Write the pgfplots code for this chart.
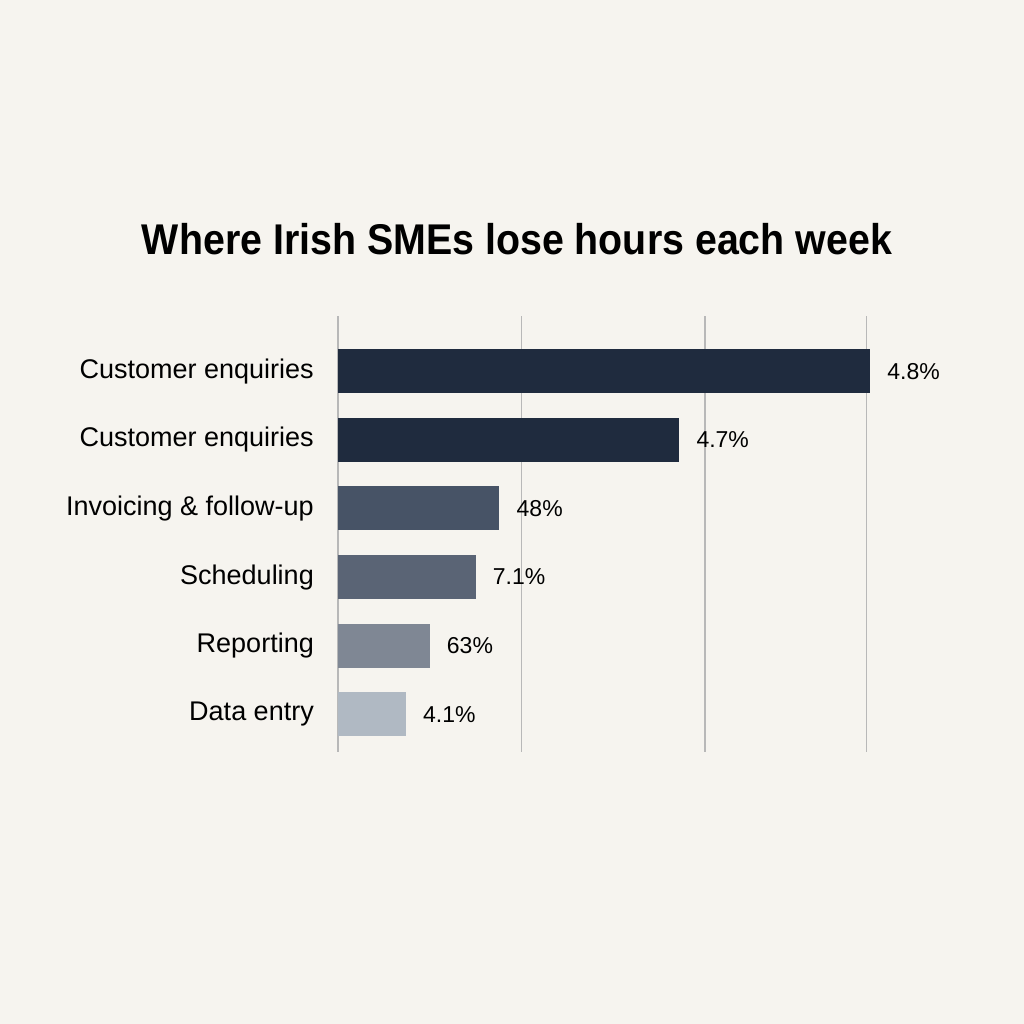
\documentclass[border=0pt]{standalone}
\usepackage{pgfplots}
\pgfplotsset{compat=1.18}
\usepackage{graphicx}
\usepackage{fontspec}
\setmainfont{Liberation Sans}

\definecolor{bg}{HTML}{F6F4EF}
\definecolor{gridc}{HTML}{B8B8B8}
\definecolor{c1}{HTML}{1F2B3E}
\definecolor{c2}{HTML}{1F2B3E}
\definecolor{c3}{HTML}{475366}
\definecolor{c4}{HTML}{5A6475}
\definecolor{c5}{HTML}{7F8794}
\definecolor{c6}{HTML}{B0B9C3}

\begin{document}
\begin{tikzpicture}
\fill[bg] (0,0) rectangle (1024bp,1024bp);

\node[anchor=base] at (517bp,769bp)
  {\scalebox{0.915}[1]{\fontsize{43bp}{50bp}\selectfont\bfseries Where Irish SMEs lose hours each week}};

\begin{axis}[
  at={(338bp,272bp)}, anchor=south west,
  scale only axis,
  width=550.5bp, height=435.6bp,
  xbar, bar width=44bp, bar shift=0pt,
  xmin=0, xmax=3,
  ymin=-0.8, ymax=5.55,
  y dir=reverse,
  axis line style={draw=none},
  major tick length=0pt,
  xtick={0,1,2,2.88},
  xticklabels={},
  xmajorgrids, grid style={gridc, line width=1.3bp},
  ytick={0,...,5},
  yticklabels={Customer enquiries, Customer enquiries, Invoicing \& follow-up, Scheduling, Reporting, Data entry},
  yticklabel style={font=\fontsize{27bp}{32bp}\selectfont, anchor=east, inner sep=0pt, xshift=-24bp},
  clip=false,
  point meta=explicit symbolic,
  nodes near coords,
  nodes near coords style={font=\fontsize{23bp}{28bp}\selectfont, anchor=west, inner sep=0pt, xshift=17bp, text=black},
]
\addplot[draw=none, fill=c1] coordinates {(2.90,0) [4.8\%]};
\addplot[draw=none, fill=c2] coordinates {(1.86,1) [4.7\%]};
\addplot[draw=none, fill=c3] coordinates {(0.88,2) [48\%]};
\addplot[draw=none, fill=c4] coordinates {(0.75,3) [7.1\%]};
\addplot[draw=none, fill=c5] coordinates {(0.50,4) [63\%]};
\addplot[draw=none, fill=c6] coordinates {(0.37,5) [4.1\%]};
\end{axis}
\end{tikzpicture}
\end{document}
